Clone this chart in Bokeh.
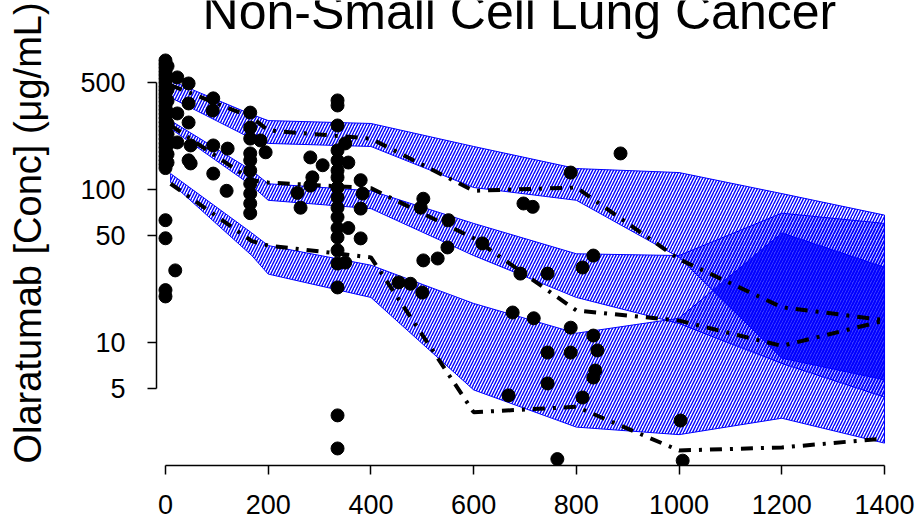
import numpy as np
from bokeh.plotting import figure
from bokeh.models import Range1d, FixedTicker, NumeralTickFormatter
from bokeh.core.properties import value
from bokeh.embed import file_html
from bokeh.resources import INLINE

# ---------------- data ----------------
title_text = "Non-Small Cell Lung Cancer"
y_label = "Olaratumab [Conc] (\u03bcg/mL)"

x_ticks = [0, 200, 400, 600, 800, 1000, 1200, 1400]
y_ticks = [5, 10, 50, 100, 500]

# observed concentrations
obs_time = (
    [0] * 32 + [4] * 10 +
    [23, 45, 23, 45, 45, 23, 49, 45, 49, 93, 92, 93, 121, 93, 119, 19,
     165, 165, 165, 185, 195, 165, 165, 165, 165, 165, 165, 165,
     257, 263, 282, 306, 286, 282,
     335, 335, 335, 350, 335, 335, 356, 335, 335, 335, 335, 335, 335, 335,
     335, 335, 335, 335, 335, 335, 356, 380, 384, 380, 380, 350,
     502, 497, 551, 549, 617, 502, 530, 454, 477, 500,
     691, 744, 697, 715, 789, 886, 833, 812,
     676, 717, 789, 833, 744, 789, 841, 837, 833, 744, 812, 668,
     1003, 1007, 763]
)
obs_conc = (
    [697, 660, 625, 590, 560, 530, 500, 470, 445, 420, 398, 375, 352, 332,
     312, 293, 275, 258, 242, 228, 214, 200, 188, 176, 165, 155, 146, 138,
     63, 48, 22, 20] +
    [640, 540, 450, 380, 320, 270, 230, 195, 170, 150] +
    [540, 493, 314, 365, 274, 203, 194, 155, 148, 394, 328, 194, 185, 127, 98, 29.6,
     318, 254, 215, 209, 175, 172, 155, 133, 109, 94, 81, 70,
     95, 76, 162, 144, 120, 106,
     382, 354, 262, 200, 180, 155, 150, 133, 120, 103, 89, 76, 66, 56,
     48.6, 40, 32.8, 22.9, 3.34, 2.03, 56, 115, 94, 75, 47.9, 33.3,
     87, 76, 63, 41.8, 44.4, 34.4, 35.4, 24.7, 24.2, 21.2,
     28.2, 28.2, 81, 77, 129, 172, 37, 30.9,
     15.7, 14.4, 12.5, 11.1, 8.6, 8.6, 8.87, 6.56, 5.9, 5.4, 4.37, 4.51,
     3.09, 1.69, 1.73]
)

# bin times
bin_time = [10, 168, 200, 400, 600, 800, 1000, 1200, 1400]

# observed percentiles
obs_p95 = [480, 296, 243, 215, 98, 103, 35, 17, 14]
obs_p50 = [262, 115, 111, 102, 48, 16.2, 13.9, 9.5, 13.9]
obs_p05 = [109, 46, 43, 36, 3.5, 3.8, 1.97, 2.06, 2.36]

# prediction intervals of simulated percentiles
pi95_hi = [515, 309, 282, 270, 191, 137, 129, 94, 68]
pi95_lo = [399, 215, 200, 191, 103, 85, 36, 7.9, 5.7]
pi50_hi = [282, 133, 109, 98, 60, 38, 37, 70, 60]
pi50_lo = [250, 106, 85, 75, 37, 19.7, 13.3, 7.3, 4.4]
pi05_hi = [127, 52, 43, 32, 18, 11.5, 14.4, 52, 31]
pi05_lo = [111, 37, 28, 19.7, 4.9, 2.8, 2.5, 3.2, 2.2]

# ---------------- figure ----------------
W, H = 919, 526
p = figure(width=W, height=H, y_axis_type="log",
           x_range=Range1d(-17.5, 1468.1), y_range=Range1d(1.571, 1718),
           output_backend="svg", toolbar_location=None,
           min_border_left=156, min_border_right=0,
           min_border_top=0, min_border_bottom=61)
p.outline_line_color = None
p.grid.visible = False
p.background_fill_color = "white"
p.border_fill_color = "white"

FONT = "Liberation Sans"

bands = [(pi95_lo, pi95_hi), (pi50_lo, pi50_hi), (pi05_lo, pi05_hi)]

# hatched prediction bands
for lo, hi in bands:
    xs = list(bin_time) + list(bin_time[::-1])
    ys = list(hi) + list(lo[::-1])
    p.patch(xs, ys, fill_alpha=0, hatch_pattern="/", hatch_color="blue",
            hatch_scale=6, hatch_weight=1.4,
            line_color="blue", line_width=1)

# denser shading where bands overlap (evaluated along the straight band edges)
tg = np.linspace(bin_time[0], bin_time[-1], 800)
lg_lo = [np.interp(tg, bin_time, np.log10(lo)) for lo, hi in bands]
lg_hi = [np.interp(tg, bin_time, np.log10(hi)) for lo, hi in bands]

def overlap(idx):
    a = np.max([lg_lo[i] for i in idx], axis=0)
    b = np.min([lg_hi[i] for i in idx], axis=0)
    b = np.where(b > a, b, a)
    return 10 ** a, 10 ** b

for idx in [(0, 1), (0, 2), (1, 2)]:
    a, b = overlap(idx)
    p.varea(x=tg, y1=a, y2=b, fill_color="blue", fill_alpha=0.25)
a, b = overlap((0, 1, 2))
p.varea(x=tg, y1=a, y2=b, fill_color="blue", fill_alpha=0.45)

# observed percentile lines
for s in (obs_p95, obs_p50, obs_p05):
    p.line(bin_time, s, line_color="black", line_width=4, line_dash="12 8 3 8")

# observations
p.scatter(obs_time, obs_conc, size=13, color="black")

# title (drawn at the top of the plotting region, partly above the page like the original)
p.text(x=[689], y=[1435], text=[title_text], text_font=value(FONT),
       text_font_size="50px", text_align="center", text_baseline="alphabetic",
       text_color="black")

# ---------------- axes ----------------
xa = p.xaxis[0]
xa.ticker = FixedTicker(ticks=x_ticks)
xa.bounds = (0, 1400)
ya = p.yaxis[0]
ya.ticker = FixedTicker(ticks=y_ticks)
ya.bounds = (5, 500)
ya.formatter = NumeralTickFormatter(format="0")
for ax in (xa, ya):
    ax.axis_line_color = "black"
    ax.axis_line_width = 1.5
    ax.major_tick_line_color = "black"
    ax.major_tick_line_width = 1.5
    ax.major_tick_out = 9
    ax.major_tick_in = 0
    ax.minor_tick_line_color = None
    ax.major_label_text_font = FONT
    ax.major_label_text_font_size = "27px"
    ax.major_label_text_color = "black"
xa.major_label_standoff = 20
ya.major_label_standoff = 22

ya.axis_label = y_label
ya.axis_label_text_font = FONT
ya.axis_label_text_font_size = "38px"
ya.axis_label_text_font_style = "normal"
ya.axis_label_text_color = "black"
ya.axis_label_standoff = 28

open("out.html", "w").write(file_html(p, INLINE))
